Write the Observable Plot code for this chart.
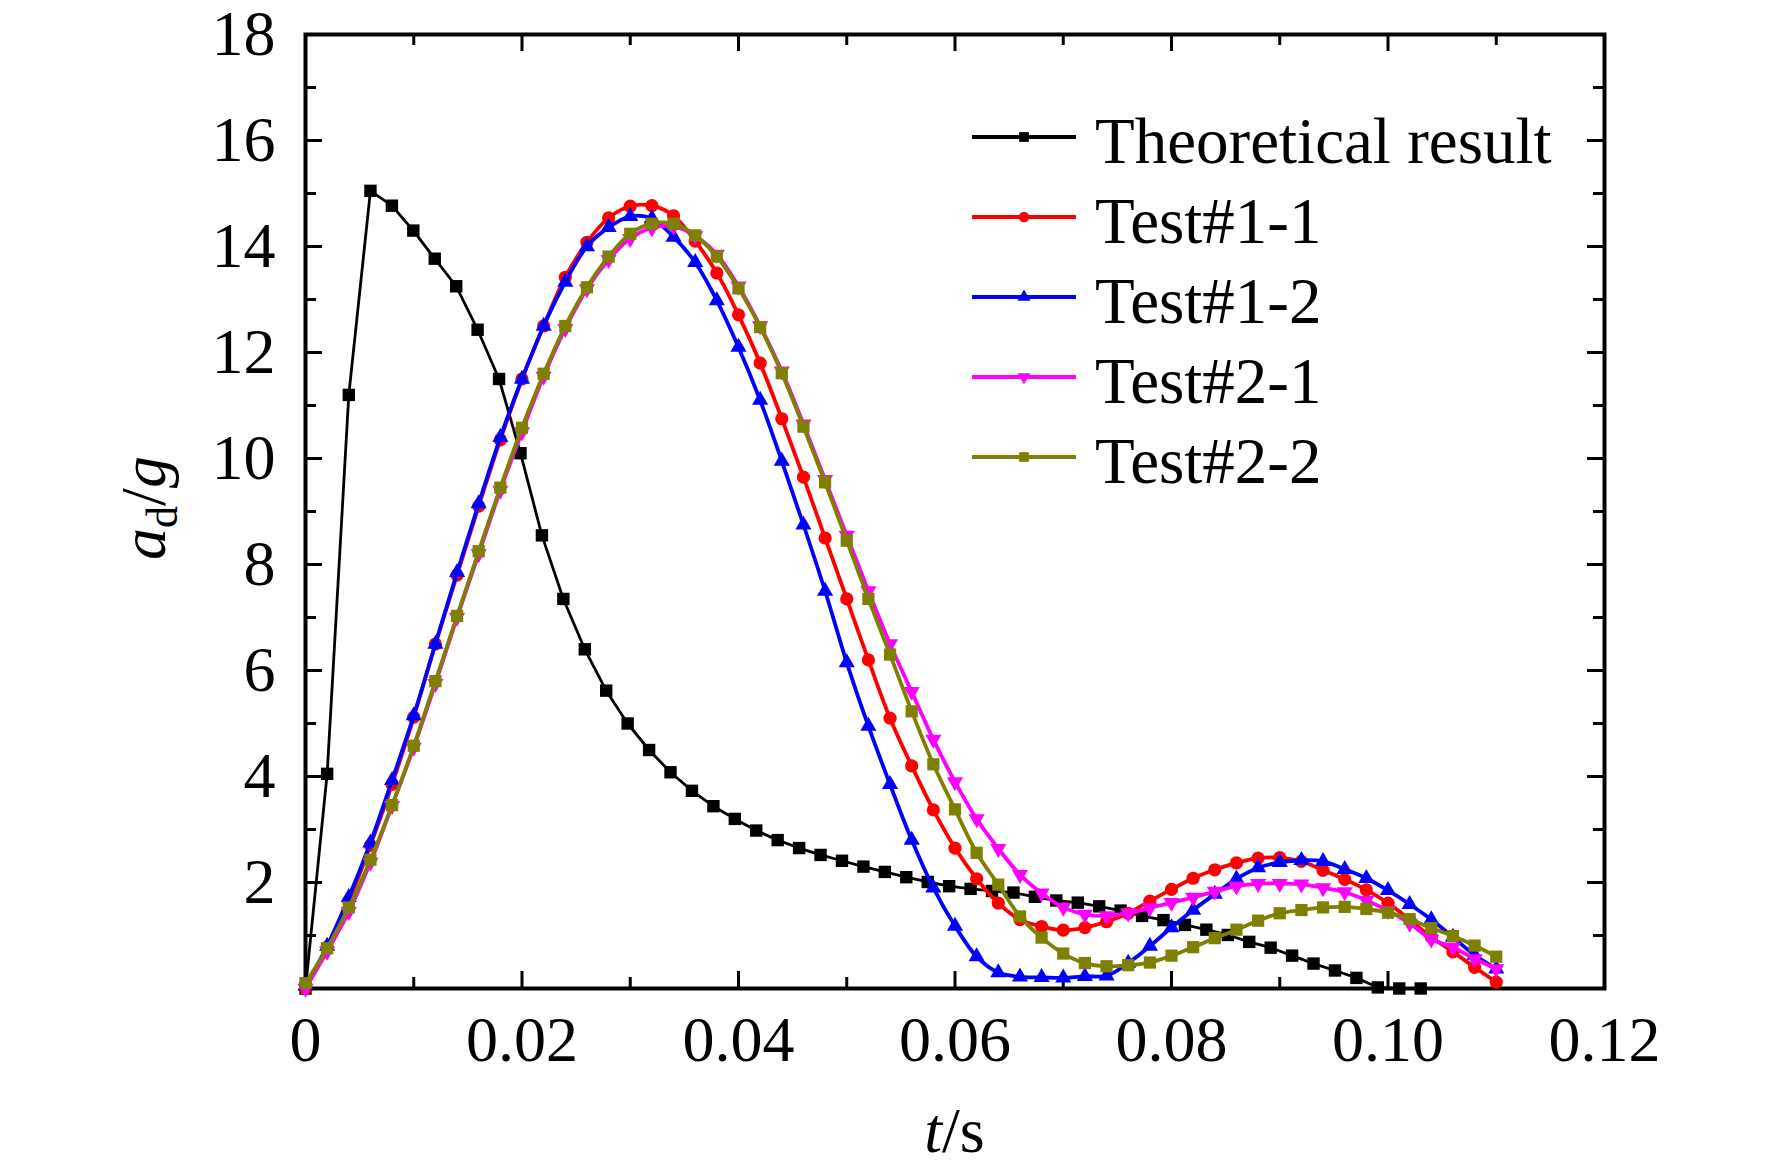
<!DOCTYPE html>
<html><head><meta charset="utf-8">
<script src="https://cdn.jsdelivr.net/npm/d3@7"></script>
<script src="https://cdn.jsdelivr.net/npm/@observablehq/plot@0.6"></script>
<style>
html,body{margin:0;padding:0;background:#fff;}
#chart{width:1772px;height:1173px;}
</style></head><body><div id="chart"></div>
<script>
// ---------- data ----------
const seriesNames = ["Theoretical result", "Test#1-1", "Test#1-2", "Test#2-1", "Test#2-2"];

const tTheory = [0, 0.002, 0.004, 0.006, 0.00798, 0.00996, 0.01194, 0.01392, 0.0159, 0.01788,
  0.01986, 0.02184, 0.02382, 0.0258, 0.02778, 0.02976, 0.03174, 0.03372, 0.0357, 0.03768,
  0.03966, 0.04164, 0.04362, 0.0456, 0.04758, 0.04956, 0.05154, 0.05352, 0.0555, 0.05748,
  0.05946, 0.06144, 0.06342, 0.0654, 0.06738, 0.06936, 0.07134, 0.07332, 0.0753, 0.07728,
  0.07926, 0.08124, 0.08322, 0.0852, 0.08718, 0.08916, 0.09114, 0.09312, 0.0951, 0.09708,
  0.09906, 0.10104, 0.10302];
const aTheory = [0, 4.05, 11.2, 15.05, 14.77, 14.3, 13.77, 13.25, 12.43, 11.5,
  10.1, 8.55, 7.35, 6.4, 5.62, 5.0, 4.5, 4.08, 3.73, 3.44,
  3.2, 2.98, 2.8, 2.65, 2.52, 2.41, 2.3, 2.2, 2.1, 2.01,
  1.93, 1.88, 1.84, 1.81, 1.73, 1.66, 1.62, 1.55, 1.47, 1.37,
  1.29, 1.2, 1.11, 1.01, 0.88, 0.77, 0.62, 0.47, 0.34, 0.2,
  0.02, 0, 0];

const tTest = [0, 0.002, 0.004, 0.006, 0.008, 0.010, 0.012, 0.014, 0.016, 0.018,
  0.020, 0.022, 0.024, 0.026, 0.028, 0.030, 0.032, 0.034, 0.036, 0.038,
  0.040, 0.042, 0.044, 0.046, 0.048, 0.050, 0.052, 0.054, 0.056, 0.058,
  0.060, 0.062, 0.064, 0.066, 0.068, 0.070, 0.072, 0.074, 0.076, 0.078,
  0.080, 0.082, 0.084, 0.086, 0.088, 0.090, 0.092, 0.094, 0.096, 0.098,
  0.100, 0.102, 0.104, 0.106, 0.108, 0.110];
const aTest11 = [0, 0.78, 1.65, 2.7, 3.85, 5.12, 6.5, 7.8, 9.1, 10.35, 11.5, 12.5,
  13.42, 14.08, 14.54, 14.76, 14.77, 14.58, 14.1, 13.5, 12.71, 11.8,
  10.75, 9.65, 8.5, 7.35, 6.2, 5.1, 4.2, 3.37, 2.65, 2.07, 1.61,
  1.3, 1.17, 1.1, 1.15, 1.26, 1.42, 1.65, 1.87, 2.08, 2.24, 2.37, 2.46, 2.47,
  2.4, 2.23, 2.06, 1.86, 1.61, 1.3, 0.97, 0.69, 0.4, 0.12];
const aTest12 = [0.05, 0.8, 1.72, 2.75, 3.93, 5.15, 6.5, 7.85, 9.15, 10.4, 11.5, 12.5,
  13.33, 14.0, 14.36, 14.57, 14.53, 14.18, 13.7, 12.98, 12.1, 11.1,
  9.95, 8.75, 7.5, 6.15, 4.95, 3.85, 2.8, 1.9, 1.18, 0.6, 0.3,
  0.22, 0.21, 0.2, 0.23, 0.24, 0.48, 0.8, 1.15, 1.48, 1.78, 2.07, 2.28, 2.38,
  2.42, 2.4, 2.25, 2.08, 1.85, 1.59, 1.3, 0.97, 0.63, 0.37];
const aTest21 = [0, 0.7, 1.45, 2.38, 3.45, 4.55, 5.75, 7.0, 8.2, 9.4, 10.5, 11.55,
  12.45, 13.2, 13.75, 14.15, 14.35, 14.38, 14.2, 13.85, 13.25, 12.5,
  11.65, 10.65, 9.6, 8.55, 7.5, 6.5, 5.6, 4.7, 3.9, 3.2, 2.64,
  2.15, 1.8, 1.53, 1.4, 1.37, 1.42, 1.52, 1.62, 1.72, 1.83, 1.93, 1.98, 1.98,
  1.97, 1.9, 1.82, 1.66, 1.47, 1.23, 0.93, 0.78, 0.56, 0.37];
const aTest22 = [0.1, 0.76, 1.53, 2.43, 3.46, 4.58, 5.8, 7.03, 8.25, 9.45, 10.58, 11.6,
  12.5, 13.23, 13.81, 14.24, 14.43, 14.43, 14.21, 13.81, 13.21, 12.48,
  11.61, 10.6, 9.55, 8.45, 7.35, 6.3, 5.23, 4.23, 3.38, 2.56, 1.96,
  1.36, 0.96, 0.66, 0.48, 0.42, 0.44, 0.49, 0.62, 0.78, 0.95, 1.11, 1.28, 1.42,
  1.48, 1.53, 1.54, 1.5, 1.43, 1.31, 1.14, 0.99, 0.81, 0.6];

const xMajor = [0, 0.02, 0.04, 0.06, 0.08, 0.10, 0.12];
const xMinor = [0.01, 0.03, 0.05, 0.07, 0.09, 0.11];
const xTickLabels = ["0", "0.02", "0.04", "0.06", "0.08", "0.10", "0.12"];
const yMajor = [0, 2, 4, 6, 8, 10, 12, 14, 16, 18];
const yMinor = [1, 3, 5, 7, 9, 11, 13, 15, 17];
const yLabelValues = [2, 4, 6, 8, 10, 12, 14, 16, 18];
const yTickLabels = ["2", "4", "6", "8", "10", "12", "14", "16", "18"];

// ---------- styles ----------
const W = 1772, H = 1173, mL = 305, mR = 168, mT = 34, mB = 185;
const iW = W - mL - mR, iH = H - mT - mB;
const FONT = '"Liberation Serif","Times New Roman",serif';
const styles = [
  {color: "#000000", symbol: "square",   r: 7.0, lr: 5.5, rotate: 0,   sw: 2.8, curve: "linear"},
  {color: "#ff0000", symbol: "circle",   r: 6.6, lr: 5.2, rotate: 0,   sw: 3.8, curve: "catmull-rom"},
  {color: "#0000ff", symbol: "triangle", r: 6.0, lr: 4.8, rotate: 0,   sw: 3.8, curve: "catmull-rom"},
  {color: "#ff00ff", symbol: "triangle", r: 6.0, lr: 4.8, rotate: 180, sw: 3.8, curve: "catmull-rom"},
  {color: "#808000", symbol: "square",   r: 6.9, lr: 5.5, rotate: 0,   sw: 3.8, curve: "catmull-rom"}
];

const seriesData = [
  tTheory.map((t, i) => ({t, a: aTheory[i]})),
  tTest.map((t, i) => ({t, a: aTest11[i]})),
  tTest.map((t, i) => ({t, a: aTest12[i]})),
  tTest.map((t, i) => ({t, a: aTest21[i]})),
  tTest.map((t, i) => ({t, a: aTest22[i]}))
];

const marks = [
  Plot.frame({stroke: "#000", strokeWidth: 4}),
  // inward ticks: bottom, top, left, right
  Plot.tickX(xMajor, {x: d => d, insetTop: iH - 17, stroke: "#000", strokeWidth: 3}),
  Plot.tickX(xMinor, {x: d => d, insetTop: iH - 11, stroke: "#000", strokeWidth: 3}),
  Plot.tickX(xMajor, {x: d => d, insetBottom: iH - 17, stroke: "#000", strokeWidth: 3}),
  Plot.tickX(xMinor, {x: d => d, insetBottom: iH - 11, stroke: "#000", strokeWidth: 3}),
  Plot.tickY(yMajor, {y: d => d, insetRight: iW - 17, stroke: "#000", strokeWidth: 3}),
  Plot.tickY(yMinor, {y: d => d, insetRight: iW - 11, stroke: "#000", strokeWidth: 3}),
  Plot.tickY(yMajor, {y: d => d, insetLeft: iW - 17, stroke: "#000", strokeWidth: 3}),
  Plot.tickY(yMinor, {y: d => d, insetLeft: iW - 11, stroke: "#000", strokeWidth: 3}),
  // tick labels
  Plot.text(xMajor, {x: d => d, text: (d, i) => xTickLabels[i], frameAnchor: "bottom",
    lineAnchor: "top", dy: 27, fontSize: 64, fill: "#000"}),
  Plot.text(yLabelValues, {y: d => d, text: (d, i) => yTickLabels[i], frameAnchor: "left",
    textAnchor: "end", lineAnchor: "middle", dx: -30, fontSize: 64, fill: "#000"})
];

seriesData.forEach((data, k) => {
  const s = styles[k];
  marks.push(Plot.line(data, {x: "t", y: "a", stroke: s.color, strokeWidth: s.sw, curve: s.curve}));
  marks.push(Plot.dot(data, {x: "t", y: "a", symbol: s.symbol, r: s.r, rotate: s.rotate,
    fill: s.color, stroke: "none"}));
});

const plot = Plot.plot({
  width: W, height: H,
  marginLeft: mL, marginRight: mR, marginTop: mT, marginBottom: mB,
  x: {domain: [0, 0.12], axis: null},
  y: {domain: [0, 18], axis: null},
  style: {fontFamily: FONT, fontSize: "64px", background: "#fff", overflow: "visible"},
  marks
});

document.getElementById("chart").appendChild(plot);

// ---------- axis titles & legend ----------
const svg = d3.select(plot);

const xt = svg.append("text")
  .attr("x", mL + iW / 2).attr("y", 1152)
  .attr("text-anchor", "middle")
  .attr("font-family", FONT).attr("font-size", 64).attr("fill", "#000");
xt.append("tspan").attr("font-style", "italic").text("t");
xt.append("tspan").text("/s");

const yt = svg.append("text")
  .attr("transform", `translate(165,${mT + iH / 2 - 3}) rotate(-90)`)
  .attr("text-anchor", "middle")
  .attr("font-family", FONT).attr("font-size", 64).attr("fill", "#000");
yt.append("tspan").attr("font-style", "italic").text("a");
yt.append("tspan").attr("font-size", 44).attr("dy", 12).text("d");
yt.append("tspan").attr("dy", -12).text("/");
yt.append("tspan").attr("font-style", "italic").text("g");

const legend = svg.append("g");
const legX0 = 972, legX1 = 1076, legTextX = 1095, legY0 = 137, legDY = 80;
const symMap = {square: d3.symbolSquare, circle: d3.symbolCircle, triangle: d3.symbolTriangle};
seriesNames.forEach((name, k) => {
  const s = styles[k];
  const y = legY0 + k * legDY;
  legend.append("line").attr("x1", legX0).attr("x2", legX1).attr("y1", y).attr("y2", y)
    .attr("stroke", s.color).attr("stroke-width", 3.8);
  legend.append("path")
    .attr("d", d3.symbol(symMap[s.symbol], Math.PI * s.lr * s.lr)())
    .attr("transform", `translate(${(legX0 + legX1) / 2},${y}) rotate(${s.rotate})`)
    .attr("fill", s.color);
  legend.append("text").attr("x", legTextX).attr("y", y + 26)
    .attr("text-anchor", "start")
    .attr("font-family", FONT).attr("font-size", 65).attr("fill", "#000").text(name);
});
</script>
</body></html>
